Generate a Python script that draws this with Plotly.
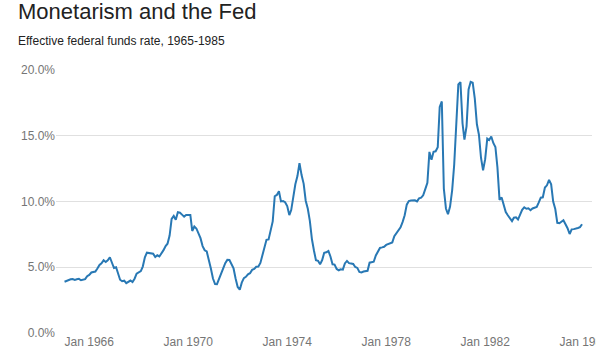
import plotly.graph_objects as go
import pandas as pd

# Effective federal funds rate, monthly, Jan 1965 - Dec 1985 (percent)
rate_1965 = [3.90, 3.98, 4.04, 4.09, 4.10, 4.04, 4.09, 4.12, 4.01, 4.08, 4.10, 4.32]
rate_1966 = [4.42, 4.60, 4.65, 4.67, 4.90, 5.17, 5.30, 5.53, 5.40, 5.53, 5.76, 5.40]
rate_1967 = [4.94, 5.00, 4.53, 4.05, 3.94, 3.98, 3.79, 3.90, 3.99, 3.88, 4.13, 4.51]
rate_1968 = [4.61, 4.71, 5.05, 5.76, 6.11, 6.07, 6.02, 6.03, 5.78, 5.91, 5.82, 6.02]
rate_1969 = [6.30, 6.61, 6.79, 7.41, 8.67, 8.90, 8.61, 9.19, 9.15, 9.00, 8.85, 8.97]
rate_1970 = [8.98, 8.98, 7.76, 8.10, 7.95, 7.61, 7.21, 6.61, 6.29, 6.20, 5.60, 4.90]
rate_1971 = [4.14, 3.72, 3.71, 4.15, 4.63, 4.91, 5.31, 5.56, 5.55, 5.20, 4.91, 4.14]
rate_1972 = [3.50, 3.29, 3.83, 4.17, 4.27, 4.46, 4.55, 4.80, 4.87, 5.04, 5.06, 5.33]
rate_1973 = [5.94, 6.58, 7.09, 7.12, 7.84, 8.49, 10.40, 10.50, 10.78, 10.01, 10.03, 9.95]
rate_1974 = [9.65, 8.97, 9.35, 10.51, 11.31, 11.93, 12.92, 12.01, 11.34, 10.06, 9.45, 8.53]
rate_1975 = [7.13, 6.24, 5.54, 5.49, 5.22, 5.55, 6.10, 6.14, 6.24, 5.82, 5.22, 5.20]
rate_1976 = [4.87, 4.77, 4.84, 4.82, 5.29, 5.48, 5.31, 5.29, 5.25, 5.02, 4.95, 4.65]
rate_1977 = [4.61, 4.68, 4.69, 4.73, 5.35, 5.39, 5.42, 5.90, 6.14, 6.47, 6.51, 6.56]
rate_1978 = [6.70, 6.78, 6.79, 6.89, 7.36, 7.60, 7.81, 8.04, 8.45, 8.96, 9.76, 10.03]
rate_1979 = [10.07, 10.06, 10.09, 10.01, 10.24, 10.29, 10.47, 10.94, 11.43, 13.77, 13.18, 13.78]
rate_1980 = [13.82, 14.13, 17.19, 17.61, 10.98, 9.47, 9.03, 9.61, 10.87, 12.81, 15.85, 18.90]
rate_1981 = [19.08, 15.93, 14.70, 15.72, 18.52, 19.10, 19.04, 17.82, 15.87, 15.08, 13.31, 12.37]
rate_1982 = [13.22, 14.78, 14.68, 14.94, 14.45, 14.15, 12.59, 10.12, 10.31, 9.71, 9.20, 8.95]
rate_1983 = [8.68, 8.51, 8.77, 8.80, 8.63, 8.98, 9.37, 9.56, 9.45, 9.48, 9.34, 9.47]
rate_1984 = [9.56, 9.59, 9.91, 10.29, 10.32, 11.06, 11.23, 11.64, 11.30, 9.99, 9.43, 8.38]
rate_1985 = [8.35, 8.50, 8.58, 8.27, 7.97, 7.53, 7.88, 7.90, 7.92, 7.99, 8.05, 8.27]

rates = (rate_1965 + rate_1966 + rate_1967 + rate_1968 + rate_1969 + rate_1970 +
         rate_1971 + rate_1972 + rate_1973 + rate_1974 + rate_1975 + rate_1976 +
         rate_1977 + rate_1978 + rate_1979 + rate_1980 + rate_1981 + rate_1982 +
         rate_1983 + rate_1984 + rate_1985)
dates = pd.date_range("1965-01-01", periods=len(rates), freq="MS")

x_tick_vals = ["1966-01-01", "1970-01-01", "1974-01-01", "1978-01-01", "1982-01-01", "1986-01-01"]
x_tick_text = ["Jan 1966", "Jan 1970", "Jan 1974", "Jan 1978", "Jan 1982", "Jan 1986"]
y_tick_vals = [0, 5, 10, 15, 20]
y_tick_text = ["0.0%", "5.0%", "10.0%", "15.0%", "20.0%"]

title_text = "Monetarism and the Fed"
subtitle_text = "Effective federal funds rate, 1965-1985"

FONT = "Arial, Liberation Sans, sans-serif"

fig = go.Figure()
fig.add_trace(go.Scatter(
    x=dates, y=rates, mode="lines",
    line=dict(color="#2878b4", width=2),
    hoverinfo="x+y", showlegend=False,
))

fig.update_layout(
    width=603, height=351,
    margin=dict(l=56, r=11, t=70, b=18),
    paper_bgcolor="white", plot_bgcolor="white",
    font=dict(family=FONT, size=12, color="#757575"),
    xaxis=dict(
        range=["1964-08-28", "1986-04-27"],
        tickvals=x_tick_vals, ticktext=x_tick_text,
        showgrid=False, zeroline=False, showline=False,
        ticks="", tickfont=dict(size=12, color="#757575"),
        ticklabeloverflow="allow",
        automargin=False,
    ),
    yaxis=dict(
        range=[0, 20],
        tickvals=y_tick_vals, ticktext=y_tick_text,
        showgrid=True, gridcolor="#e0e0e0", gridwidth=1,
        zeroline=False, showline=False, ticks="",
        tickfont=dict(size=12, color="#757575"),
        automargin=False,
    ),
    # the reference chart's container clips the last tick label at its right edge
    shapes=[dict(type="rect", xref="paper", yref="paper", layer="above",
                 x0=(596 - 56) / 536, x1=(610 - 56) / 536, y0=-0.08, y1=-0.005,
                 fillcolor="white", line=dict(width=0))],
    annotations=[
        dict(text=title_text, xref="paper", yref="paper",
             x=(16 - 56) / 536, y=(333 - 12) / 263, xanchor="left", yanchor="middle",
             showarrow=False, font=dict(family=FONT, size=22, color="#222222")),
        dict(text=subtitle_text, xref="paper", yref="paper",
             x=(16 - 56) / 536, y=(333 - 41) / 263, xanchor="left", yanchor="middle",
             showarrow=False, font=dict(family=FONT, size=12, color="#222222")),
    ],
)

fig.write_html("out.html")
